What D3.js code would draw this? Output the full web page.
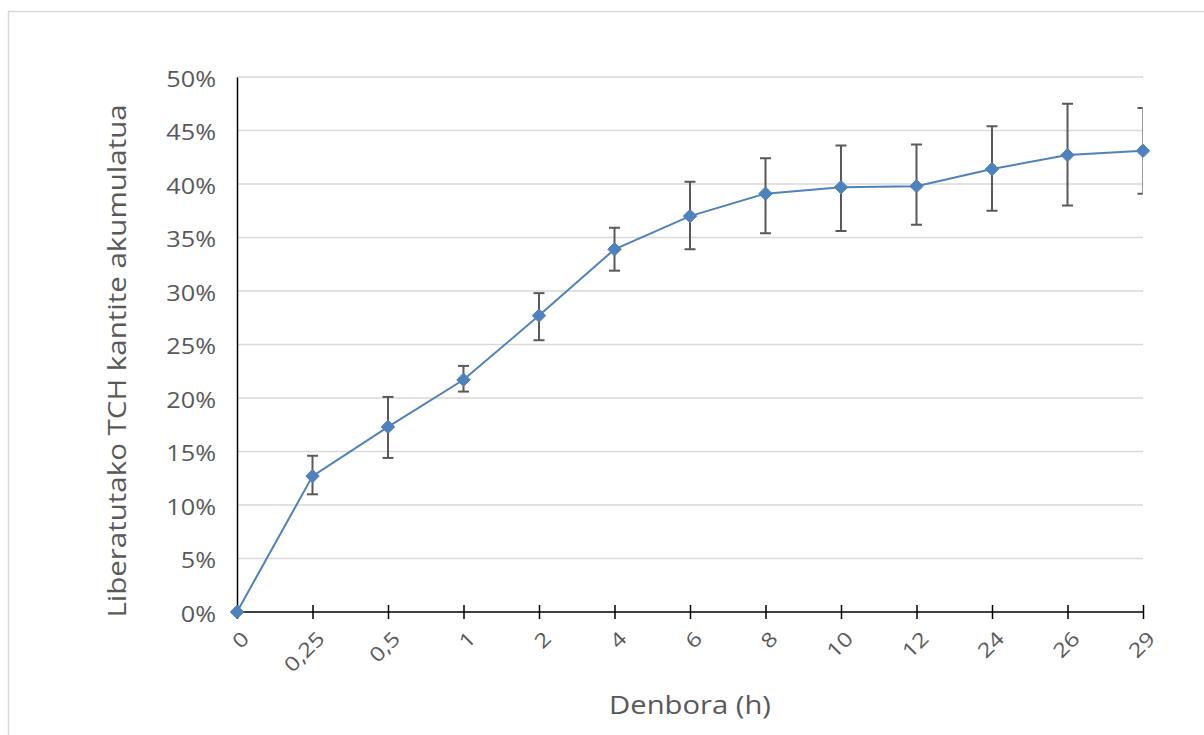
<!DOCTYPE html>
<html>
<head>
<meta charset="utf-8">
<script src="https://cdn.jsdelivr.net/npm/d3@7"></script>
<style>
  body { margin: 0; background: #fff; }
  text { font-family: "Open Sans", "Noto Sans", sans-serif; fill: #595959; }
</style>
</head>
<body>
<svg id="chart" width="1204" height="735"></svg>
<script>
const times = ["0", "0,25", "0,5", "1", "2", "4", "6", "8", "10", "12", "24", "26", "29"];
const released = [0, 12.7, 17.3, 21.7, 27.7, 33.9, 37.0, 39.1, 39.7, 39.8, 41.4, 42.7, 43.1];
const errUpper = [0, 14.6, 20.1, 23.0, 29.8, 35.9, 40.2, 42.4, 43.6, 43.7, 45.4, 47.5, 47.1];
const errLower = [0, 11.0, 14.4, 20.6, 25.4, 31.9, 33.9, 35.4, 35.6, 36.2, 37.5, 38.0, 39.1];
const yTicks = [0, 5, 10, 15, 20, 25, 30, 35, 40, 45, 50];

const data = times.map((t, i) => ({ t, v: released[i], hi: errUpper[i], lo: errLower[i] }));

const svg = d3.select("#chart");
const margin = {top: 77, left: 237};
const innerWidth = 906;
const innerHeight = 535;
const font = "'Open Sans', 'Noto Sans', sans-serif";
const stretch = 1.2; // the original font is wider than Open Sans

// chart frame
svg.append("rect")
  .attr("x", 8.5).attr("y", 11.5)
  .attr("width", 1220).attr("height", 760)
  .attr("fill", "none").attr("stroke", "#d9d9d9").attr("stroke-width", 1.5);

const g = svg.append("g").attr("transform", `translate(${margin.left}, ${margin.top})`);

const xScale = d3.scalePoint().domain(times).range([0, innerWidth]);
const yScale = d3.scaleLinear().domain([0, 50]).range([innerHeight, 0]);

// gridlines
g.append("g").selectAll("line")
  .data(yTicks.filter(d => d > 0))
  .enter().append("line")
  .attr("x1", 0).attr("x2", innerWidth)
  .attr("y1", d => yScale(d)).attr("y2", d => yScale(d))
  .attr("stroke", "#d9d9d9").attr("stroke-width", 1.5);

// y axis
const yAxisG = g.append("g")
  .call(d3.axisLeft(yScale).tickValues(yTicks).tickSize(0).tickFormat(d => d + "%"));
yAxisG.select(".domain").attr("stroke", "#000").attr("stroke-width", 1.5);
yAxisG.selectAll("text")
  .attr("font-size", 21).attr("fill", "#595959")
  .attr("font-family", font)
  .attr("x", 0)
  .attr("dy", "0.45em")
  .attr("transform", `translate(-21, 0) scale(${stretch}, 1)`);

// x axis
const xAxisG = g.append("g")
  .attr("transform", `translate(0, ${innerHeight})`)
  .call(d3.axisBottom(xScale).tickSize(7).tickSizeOuter(7));
xAxisG.select(".domain").attr("stroke", "#000").attr("stroke-width", 1.5)
  .attr("d", `M0,0H${innerWidth}`);
xAxisG.selectAll(".tick line").attr("stroke", "#000").attr("stroke-width", 1.5)
  .attr("y1", -7).attr("y2", 7);
xAxisG.selectAll(".tick text")
  .attr("font-size", 20).attr("fill", "#595959")
  .attr("font-family", font)
  .attr("text-anchor", "end")
  .attr("dy", "0.35em")
  .attr("transform", `translate(8, 23) rotate(-45) scale(${stretch}, 1)`)
  .attr("y", 0).attr("x", 0);

// error bars (the last one is half hidden by the plot edge)
g.append("defs").append("clipPath").attr("id", "plotClip")
  .append("rect").attr("x", -20).attr("y", -20).attr("width", innerWidth + 19.6).attr("height", innerHeight + 40);

const errG = g.append("g").attr("clip-path", "url(#plotClip)");
const bars = errG.selectAll("g.err").data(data.filter(d => d.hi > d.lo)).enter().append("g")
  .attr("stroke", "#595959").attr("stroke-width", 2);
bars.append("line")
  .attr("x1", d => xScale(d.t)).attr("x2", d => xScale(d.t))
  .attr("y1", d => yScale(d.hi)).attr("y2", d => yScale(d.lo));
bars.append("line")
  .attr("x1", d => xScale(d.t) - 5.5).attr("x2", d => xScale(d.t) + 5.5)
  .attr("y1", d => yScale(d.hi)).attr("y2", d => yScale(d.hi));
bars.append("line")
  .attr("x1", d => xScale(d.t) - 5.5).attr("x2", d => xScale(d.t) + 5.5)
  .attr("y1", d => yScale(d.lo)).attr("y2", d => yScale(d.lo));

// line
const line = d3.line().x(d => xScale(d.t)).y(d => yScale(d.v));
g.append("path").datum(data)
  .attr("d", line)
  .attr("fill", "none").attr("stroke", "#4f81bd").attr("stroke-width", 2);

// markers
g.selectAll("path.marker").data(data).enter().append("path")
  .attr("class", "marker")
  .attr("d", d3.symbol(d3.symbolDiamond2, 115))
  .attr("transform", d => `translate(${xScale(d.t)}, ${yScale(d.v)})`)
  .attr("fill", "#4f81bd").attr("stroke", "#4f81bd").attr("stroke-width", 1);

// axis titles
svg.append("text")
  .attr("transform", `translate(126, 361) rotate(-90) scale(1.18, 1)`)
  .attr("text-anchor", "middle")
  .attr("font-size", 25)
  .text("Liberatutako TCH  kantite akumulatua");

svg.append("text")
  .attr("transform", `translate(690, 714) scale(1.17, 1)`)
  .attr("text-anchor", "middle")
  .attr("font-size", 25)
  .text("Denbora (h)");
</script>
</body>
</html>
